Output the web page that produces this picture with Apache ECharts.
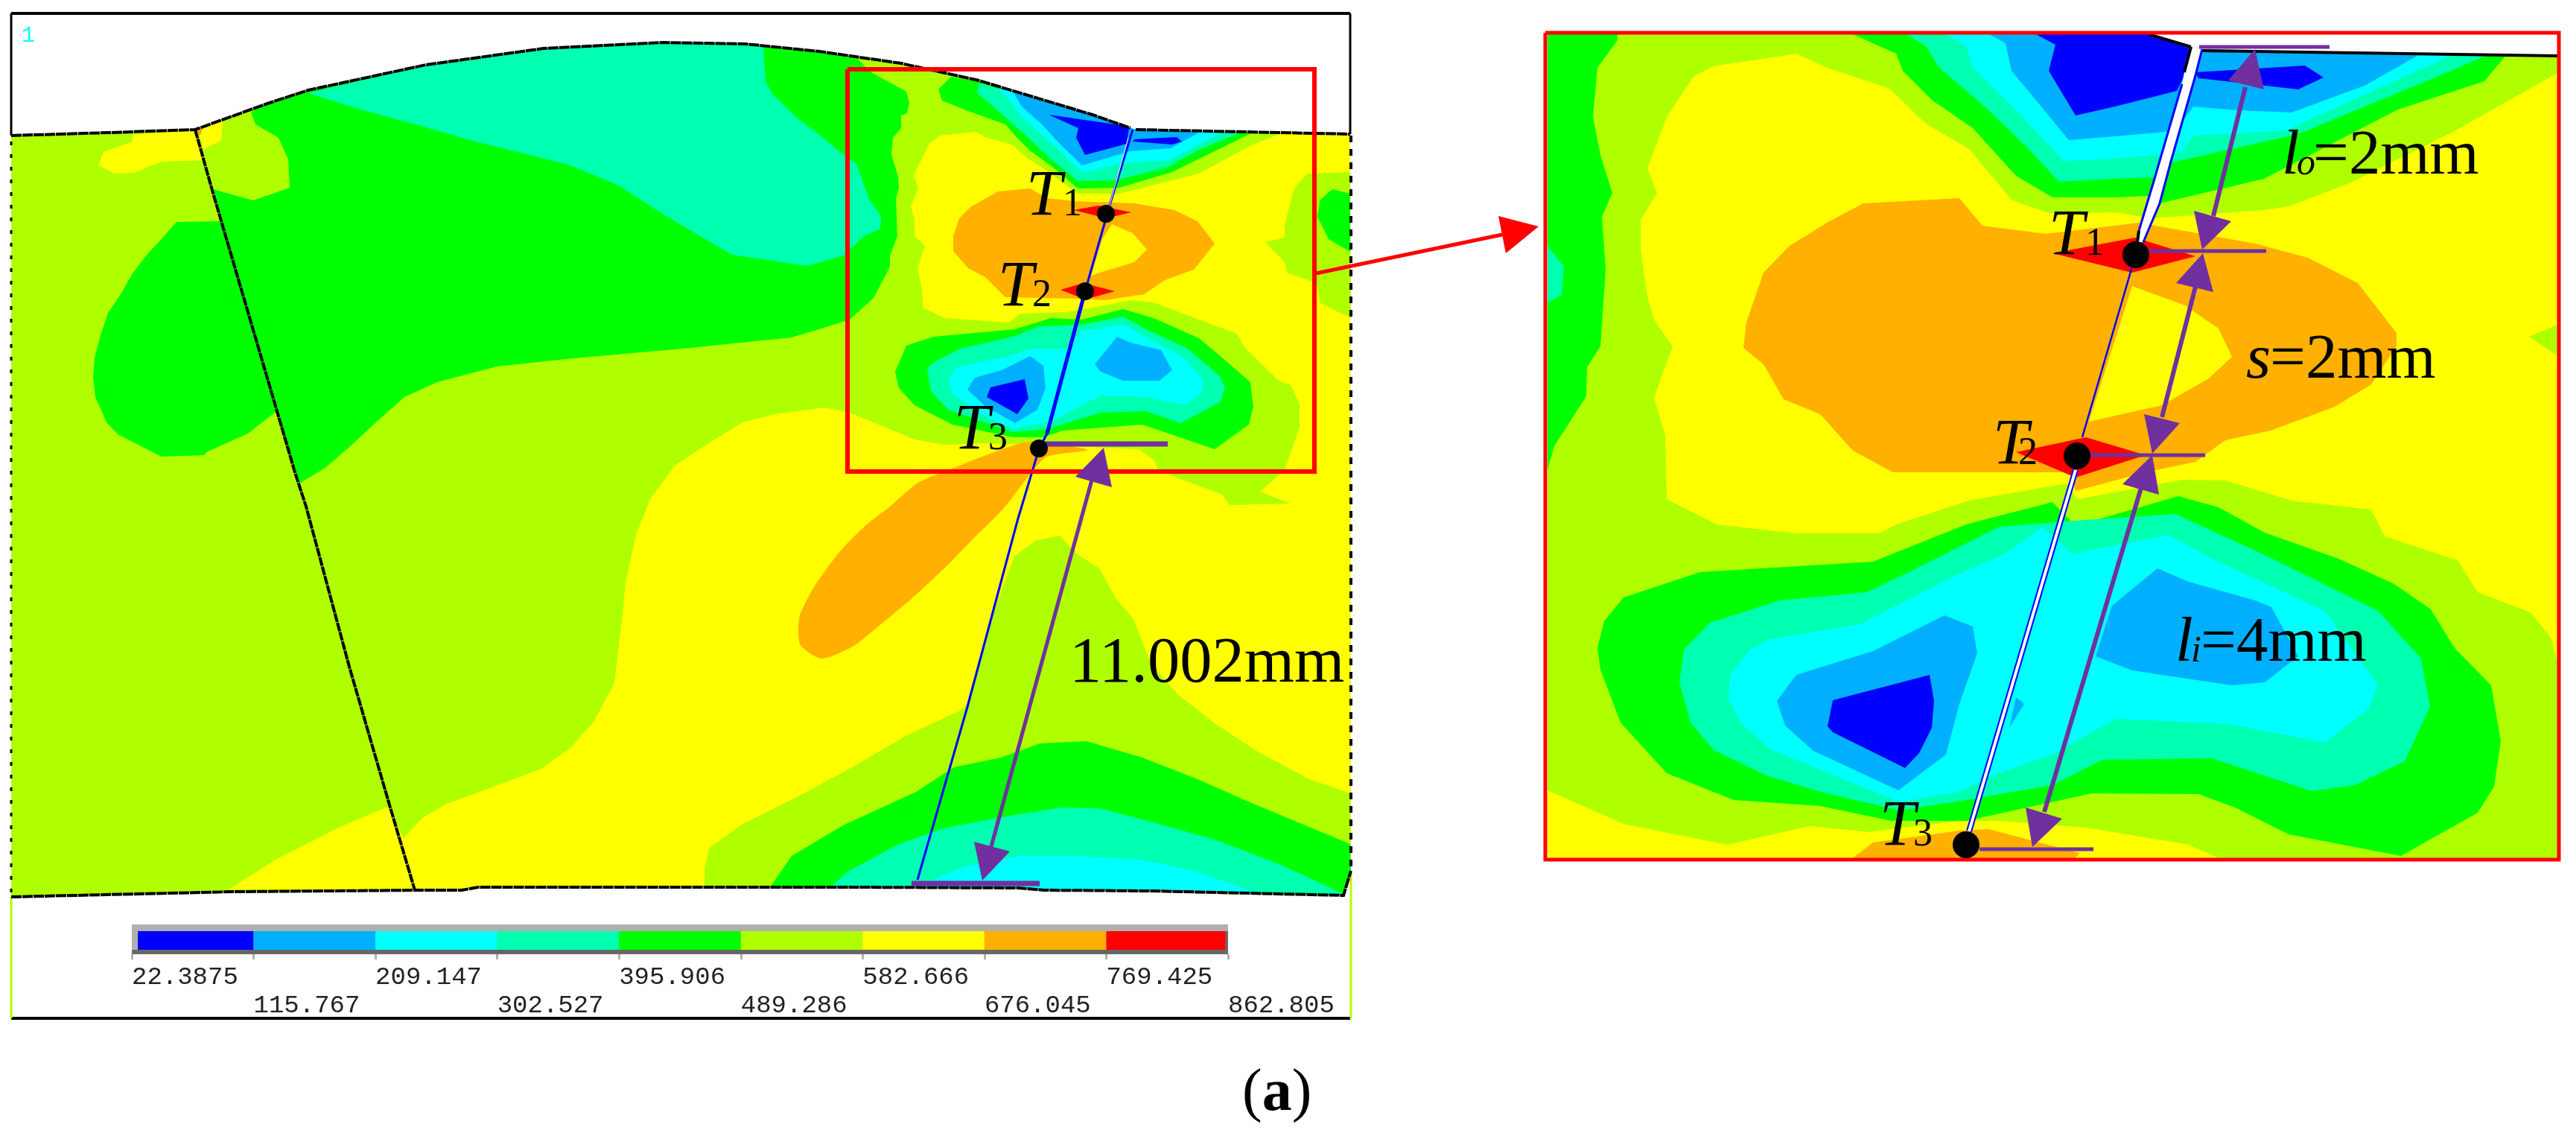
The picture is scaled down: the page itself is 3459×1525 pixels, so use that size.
<!DOCTYPE html>
<html>
<head>
<meta charset="utf-8">
<title></title>
<script src="https://cdn.jsdelivr.net/npm/echarts@6/dist/echarts.min.js"></script>
<style>html,body{margin:0;padding:0;background:#fff}</style>
</head>
<body>
<div id="main" style="width:3459px;height:1525px;"></div>
<script>
// contour colours, low stress to high stress
var BLUE='#0000ff',SKY='#00b0ff',CYAN='#00ffff',TEAL='#00ffb0',GREEN='#00ff00',LIME='#b0ff00',YELLOW='#ffff00',ORANGE='#ffb000',RED='#ff0000';
var PURPLE='#7030a0';

// legend
var legendBreaks=[22.3875,115.767,209.147,302.527,395.906,489.286,582.666,676.045,769.425,862.805];
var legendColors=[BLUE,SKY,CYAN,TEAL,GREEN,LIME,YELLOW,ORANGE,RED];

// left panel, section outline
var topEdge=[[15,182],[147,178],[262,174],[359,139],[414,121],[572,87],[730,65],[891,57],[1001,59],[1100,69],[1210,85],[1314,108],[1467,154],[1518,172]];
var topEdgeRight=[[1525,174],[1813,180]];
var bottomEdge=[[15,1204],[315,1197],[557,1195],[620,1195],[642,1191],[1150,1191],[1367,1192],[1402,1195],[1545,1196],[1804,1202],[1814,1169]];
var section=topEdge.concat(topEdgeRight,[[1814,1169],[1804,1202],[1545,1196],[1402,1195],[1367,1192],[1150,1191],[642,1191],[620,1195],[557,1195],[315,1197],[15,1204]]);
var weldLine=[[262,174],[286,259],[345,460],[396,634],[411,680],[469,895],[524,1084],[557,1195]];

// left panel, main contour bands
var mainGreen=[[337,150],[343,167],[374,185],[387,214],[389,252],[340,269],[286,254],[297,297],[237,298],[213,325],[197,342],[178,367],[162,395],[145,420],[135,450],[127,480],[125,507],[128,533],[143,567],[158,583],[217,613],[275,611],[277,607],[333,582],[370,553],[402,649],[437,628],[477,593],[507,565],[543,533],[587,513],[667,492],[770,481],[917,468],[1063,453],[1100,442],[1141,429],[1173,400],[1195,358],[1195,343],[1205,317],[1203,267],[1207,253],[1206,237],[1197,207],[1199,185],[1210,172],[1210,155],[1218,152],[1221,138],[1217,123],[1168,96],[1152,79],[1100,69],[1001,59],[891,57],[730,65],[572,87],[414,121],[359,139]];
var mainTeal=[[414,125],[477,145],[565,169],[638,190],[763,221],[829,248],[891,288],[983,342],[1083,357],[1133,343],[1160,317],[1182,307],[1183,290],[1167,267],[1150,220],[1135,210],[1103,183],[1070,158],[1038,127],[1028,110],[1025,63],[1001,59],[891,57],[730,65],[572,87]];
var rootYellowA=[[132,222],[139,204],[178,190],[178,181],[262,175],[275,215],[216,217],[180,232],[154,233]];
var rootYellowB=[[265,173],[299,163],[297,188],[273,201]];
var rootOrange=[[264,174],[272,172],[270,180],[266,182]];
var bigYellow=[[307,1194],[370,1154],[453,1112],[520,1083],[542,1125],[567,1098],[600,1079],[647,1062],[727,1032],[767,1003],[780,988],[797,969],[825,917],[836,825],[840,782],[854,718],[869,680],[873,670],[906,625],[953,594],[997,567],[1041,556],[1107,547],[1141,554],[1228,590],[1268,597],[1240,413],[1237,383],[1232,360],[1242,330],[1228,317],[1228,293],[1223,278],[1233,252],[1227,235],[1248,193],[1262,182],[1310,177],[1323,184],[1360,195],[1380,213],[1397,223],[1447,260],[1503,260],[1610,233],[1680,195],[1720,179],[1813,180],[1814,1169],[1804,1202],[1545,1196],[1402,1195],[1367,1192],[1150,1191],[642,1191],[620,1195],[557,1195]];
var footLime=[[946,1191],[946,1165],[953,1138],[994,1108],[1074,1068],[1144,1030],[1218,987],[1293,952],[1298,944],[1333,825],[1362,747],[1390,726],[1422,719],[1448,745],[1476,763],[1499,804],[1522,831],[1545,890],[1580,931],[1631,971],[1689,1009],[1758,1046],[1813,1065],[1814,1169],[1804,1202],[1545,1196],[1402,1195],[1367,1192]];
var footGreen=[[1034,1191],[1063,1149],[1132,1108],[1230,1063],[1281,1030],[1344,1017],[1396,998],[1459,995],[1534,1017],[1608,1046],[1683,1079],[1813,1133],[1814,1169],[1804,1202],[1545,1196],[1402,1195],[1367,1192]];
var footTeal=[[1115,1191],[1138,1170],[1207,1133],[1270,1111],[1356,1095],[1425,1084],[1476,1085],[1545,1103],[1631,1127],[1718,1160],[1804,1200],[1545,1196],[1402,1195],[1367,1192]];
var footCyan=[[1227,1191],[1299,1162],[1367,1149],[1448,1149],[1534,1154],[1608,1170],[1683,1197],[1545,1196],[1402,1195],[1367,1192]];
var sideLime=[[1813,231],[1756,233],[1738,252],[1725,301],[1725,319],[1699,325],[1725,352],[1728,366],[1768,380],[1773,407],[1814,427]];
var sideGreen=[[1789,254],[1813,260],[1813,338],[1784,321],[1769,291],[1773,268]];

// left panel, around the notch
var notchGreen=[[1315,110],[1277,103],[1260,120],[1265,135],[1297,148],[1350,167],[1363,182],[1383,202],[1417,227],[1447,253],[1503,252],[1574,231],[1631,203],[1682,178],[1525,174],[1518,172],[1467,154]];
var notchTeal=[[1315,112],[1312,125],[1330,140],[1350,158],[1370,175],[1407,210],[1447,243],[1498,242],[1567,225],[1610,201],[1666,178],[1525,174],[1518,172],[1467,154]];
var notchCyan=[[1338,117],[1352,130],[1368,153],[1398,180],[1420,200],[1453,232],[1508,219],[1569,215],[1641,178],[1525,174],[1518,172],[1467,154]];
var notchSky=[[1360,123],[1372,143],[1400,168],[1423,193],[1453,222],[1518,203],[1572,199],[1610,178],[1525,174],[1518,172],[1467,154]];
var notchBlueA=[[1408,154],[1498,167],[1516,172],[1513,193],[1457,208],[1445,185],[1448,172]];
var notchBlueB=[[1523,187],[1580,184],[1587,190],[1574,194],[1521,190]];

// left panel, orange ring and tail
var ringOrange=[[1340,257],[1303,278],[1288,293],[1280,317],[1280,337],[1300,360],[1323,372],[1350,399],[1452,401],[1483,403],[1536,395],[1564,376],[1603,362],[1631,327],[1608,297],[1577,282],[1523,273],[1442,270],[1406,266],[1383,253]];
var ringHole=[[1493,301],[1521,313],[1540,335],[1523,352],[1483,364],[1465,370],[1480,321]];
var tailOrange=[[1072,842],[1075,823],[1095,785],[1129,739],[1164,704],[1195,680],[1233,648],[1284,627],[1324,611],[1383,593],[1460,604],[1406,613],[1386,633],[1347,683],[1304,726],[1270,761],[1227,801],[1166,852],[1143,869],[1103,884],[1075,866]];
var redT1=[[1442,282],[1475,276],[1519,285],[1485,293]];
var redT2=[[1424,389],[1455,380],[1497,391],[1457,402]];

// left panel, closed low-stress basin
var basinLime=[[1268,597],[1240,413],[1268,427],[1355,433],[1370,421],[1432,419],[1483,410],[1518,403],[1549,406],[1610,429],[1661,448],[1671,466],[1717,511],[1733,517],[1745,542],[1745,574],[1725,631],[1692,660],[1733,676],[1651,678],[1641,664],[1554,631],[1551,619],[1529,603],[1401,597],[1319,595]];
var basinGreen=[[1202,499],[1217,464],[1253,452],[1363,442],[1411,427],[1452,429],[1508,415],[1549,427],[1610,454],[1641,480],[1679,513],[1683,546],[1677,570],[1631,603],[1534,570],[1427,578],[1401,587],[1360,587],[1279,570],[1228,544],[1207,521]];
var basinTeal=[[1245,495],[1253,487],[1289,468],[1360,452],[1396,438],[1452,436],[1508,425],[1539,442],[1595,468],[1638,505],[1645,521],[1638,540],[1585,568],[1539,552],[1478,554],[1406,576],[1360,580],[1273,550],[1250,525]];
var basinCyan=[[1273,511],[1284,493],[1355,478],[1386,468],[1432,468],[1452,444],[1508,435],[1590,480],[1615,509],[1613,529],[1590,544],[1539,533],[1478,531],[1411,566],[1360,576],[1314,554],[1279,529]];
var basinSkyA=[[1299,523],[1309,507],[1345,497],[1383,478],[1401,491],[1404,521],[1393,550],[1363,568],[1324,546]];
var basinSkyB=[[1470,489],[1500,452],[1518,460],[1559,470],[1574,497],[1557,511],[1508,511],[1478,499]];
var basinBlue=[[1325,533],[1330,520],[1376,509],[1381,535],[1366,556]];

// inset panel
var insetBox=[[2078,46],[3436,46],[3436,1152],[2078,1152]];
var insetYellow=[[2413,72],[2453,91],[2537,119],[2586,166],[2644,200],[2702,269],[2751,286],[2840,285],[2890,293],[3040,282],[3073,277],[3157,245],[3296,176],[3354,143],[3436,97],[3436,895],[3425,856],[3398,822],[3327,795],[3300,752],[3202,720],[3184,684],[3077,672],[2988,645],[2930,644],[2790,670],[2774,649],[2644,672],[2546,704],[2524,716],[2412,716],[2305,704],[2238,670],[2237,620],[2236,584],[2221,534],[2246,465],[2221,429],[2212,398],[2203,334],[2203,295],[2225,259],[2212,226],[2238,157],[2274,103],[2300,89]];
var insetYellowLow=[[2078,1061],[2180,1106],[2319,1134],[2430,1109],[2510,1117],[2631,1102],[2685,1102],[2801,1111],[2939,1134],[2979,1152],[2078,1152]];
var insetLeftGreen=[[2078,46],[2172,46],[2172,54],[2145,91],[2139,157],[2149,208],[2165,259],[2151,291],[2156,362],[2149,465],[2131,493],[2130,532],[2087,599],[2078,631]];
var insetLeftTeal=[[2078,330],[2100,358],[2097,396],[2078,406]];
var insetSideLime=[[3436,435],[3396,452],[3436,479]];
var insetOrange=[[2502,273],[2631,266],[2662,303],[2747,314],[2872,299],[3028,327],[3099,346],[3166,380],[3218,447],[3218,465],[3184,516],[3135,546],[3049,578],[2988,591],[2948,620],[2881,634],[2787,659],[2780,634],[2542,634],[2488,605],[2444,556],[2395,536],[2368,489],[2341,467],[2345,433],[2368,366],[2403,330],[2453,299]];
var insetHole=[[2863,384],[2934,410],[2979,441],[2997,479],[2966,508],[2903,544],[2805,566]];
var insetRedT1=[[2756,340],[2867,319],[2948,344],[2863,366]];
var insetRedT2=[[2707,607],[2801,587],[2881,611],[2787,641]];
var insetNotchGreen=[[2488,46],[2546,72],[2555,95],[2595,135],[2649,172],[2707,236],[2756,265],[2840,265],[2883,263],[2900,273],[3040,240],[3220,147],[3336,109],[3367,72],[3367,46]];
var insetNotchTeal=[[2560,46],[2586,62],[2604,91],[2667,145],[2720,196],[2765,244],[2840,240],[2893,238],[2917,218],[3086,180],[3282,99],[3349,70],[3349,46]];
var insetNotchCyan=[[2613,46],[2640,62],[2649,91],[2702,143],[2771,216],[2840,213],[2907,207],[2930,205],[2945,182],[3068,176],[3296,72],[3296,46]];
var insetNotchSky=[[2671,46],[2693,58],[2701,95],[2778,188],[2840,183],[2907,177],[2925,170],[2945,143],[3003,148],[3077,151],[3175,115],[3251,72],[3251,46]];
var insetNotchBlueA=[[2734,46],[2760,60],[2751,95],[2787,155],[2840,143],[2923,122],[2939,89],[2943,66],[2885,46]];
var insetNotchBlueB=[[2948,97],[3095,88],[3120,104],[3086,120],[2952,105]];
var insetBasinGreen=[[2180,802],[2283,768],[2515,754],[2640,704],[2756,674],[2787,706],[2925,666],[2979,681],[3041,715],[3140,750],[3215,784],[3264,818],[3296,870],[3345,920],[3358,995],[3349,1056],[3327,1091],[3224,1149],[3073,1120],[3001,1084],[2952,1066],[2809,1065],[2640,1102],[2540,1102],[2444,1082],[2328,1074],[2238,1038],[2176,970],[2149,899],[2145,870],[2154,834]];
var insetBasinTeal=[[2296,836],[2390,806],[2506,795],[2551,774],[2685,707],[2770,700],[2921,690],[3041,745],[3193,820],[3251,884],[3263,949],[3229,1022],[3162,1054],[3104,1062],[2970,1018],[2823,1020],[2756,1054],[2640,1074],[2595,1081],[2551,1088],[2444,1063],[2372,1041],[2301,1007],[2270,970],[2255,916],[2261,872]];
var insetBasinCyan=[[2323,906],[2350,872],[2377,858],[2497,838],[2622,774],[2693,743],[2743,707],[2783,743],[2912,718],[2970,750],[3122,820],[3193,920],[3180,952],[3122,997],[2992,972],[2841,965],[2756,1013],[2676,1041],[2631,1063],[2551,1077],[2377,1006],[2337,970],[2321,938]];
var insetBasinSkyA=[[2386,941],[2412,906],[2515,874],[2611,826],[2649,841],[2655,877],[2631,945],[2613,1013],[2549,1061],[2435,1008],[2397,974]];
var insetBasinSkyC=[[2707,936],[2718,945],[2698,977]];
var insetBasinSkyB=[[2814,881],[2836,813],[2897,763],[2939,781],[3028,806],[3050,815],[3086,881],[3041,916],[2997,920],[2863,900]];
var insetBasinBlue=[[2454,975],[2461,940],[2591,906],[2597,941],[2594,977],[2577,1011],[2558,1031],[2461,983]];
var insetFootOrange=[[2488,1152],[2515,1131],[2631,1115],[2670,1113],[2792,1145],[2787,1152]];
var insetWhiteNotch=[[2885,44],[2942,63],[2957,66],[3436,75],[3436,44]];
var insetWeldWhite=[[2942,63],[2957,66],[2947,105],[2915,217],[2900,273],[2878,325],[2870,325],[2872,310],[2893,240],[2930,113],[2933,97]];

// [colour, polygon, smooth]
var layers=[
    [LIME,section],[GREEN,mainGreen],[TEAL,mainTeal],[YELLOW,rootYellowA],[YELLOW,rootYellowB],[ORANGE,rootOrange],
    [YELLOW,bigYellow],[LIME,footLime],[GREEN,footGreen],[TEAL,footTeal],[CYAN,footCyan],
    [LIME,sideLime],[GREEN,sideGreen],
    [GREEN,notchGreen],[TEAL,notchTeal],[CYAN,notchCyan],[SKY,notchSky],[BLUE,notchBlueA],[BLUE,notchBlueB],
    [LIME,basinLime],[ORANGE,tailOrange,0.25],[ORANGE,ringOrange],[YELLOW,ringHole],[RED,redT1],[RED,redT2],
    [GREEN,basinGreen],[TEAL,basinTeal],[CYAN,basinCyan],[SKY,basinSkyA],[SKY,basinSkyB],[BLUE,basinBlue],
    [LIME,insetBox],[YELLOW,insetYellow],[YELLOW,insetYellowLow],[GREEN,insetLeftGreen],[TEAL,insetLeftTeal],[LIME,insetSideLime],
    [ORANGE,insetOrange],[YELLOW,insetHole],[RED,insetRedT1],[RED,insetRedT2],
    [GREEN,insetNotchGreen],[TEAL,insetNotchTeal],[CYAN,insetNotchCyan],[SKY,insetNotchSky],[BLUE,insetNotchBlueA],[BLUE,insetNotchBlueB],
    [GREEN,insetBasinGreen],[TEAL,insetBasinTeal],[CYAN,insetBasinCyan],[SKY,insetBasinSkyA],[SKY,insetBasinSkyB],[SKY,insetBasinSkyC],[BLUE,insetBasinBlue],
    [ORANGE,insetFootOrange],['#ffffff',insetWhiteNotch],['#ffffff',insetWeldWhite]
];

// [colour, width, dash, points]
var strokes=[
    ['#000',4,null,[[15,18],[1813,18]]],
    ['#000',3,null,[[15,18],[15,182]]],
    ['#000',3,null,[[1813,18],[1813,180]]],
    ['#000',4,null,[[15,1367],[1813,1367]]],
    ['#000',3,[5,12],[[15,190],[15,1204]]],
    ['#000',4,[9,9],[[1814,182],[1814,1165]]],
    [LIME,3,null,[[15,1204],[15,1367]]],
    [LIME,3,null,[[1814,1169],[1814,1367]]],
    ['#000',4,[14,1],topEdge],
    ['#000',4,[14,1],topEdgeRight],
    ['#000',4,[14,1],bottomEdge],
    ['#000',4,[12,1],weldLine],
    [BLUE,3,null,[[1521,174],[1490,276],[1457,391],[1406,582],[1395,603],[1367,696],[1299,949],[1232,1181]]],
    [BLUE,5,null,[[1457,391],[1406,582]]],
    ['#fff',1,null,[[1515,185],[1490,276]]],
    [RED,6,null,[[1138,93],[1765,93],[1765,633],[1138,633],[1138,93]]],
    [RED,5,null,[[1767,367],[2017,315]]],
    // inset
    ['#000',4,null,[[2885,46],[2942,63]]],
    ['#000',4,null,[[2957,68],[3434,75]]],
    ['#000',4,null,[[2942,63],[2933,97]]],
    ['#000',4,null,[[2872,310],[2870,325]]],
    [BLUE,3,null,[[2957,66],[2947,105],[2915,217],[2900,273],[2878,325]]],
    [BLUE,3,null,[[2930,113],[2893,240],[2872,310]]],
    [BLUE,2.5,null,[[2863,358],[2834,457],[2796,587]]],
    [BLUE,8,null,[[2787,631],[2644,1116]]],
    ['#fff',4,null,[[2787,631],[2644,1116]]],
    [RED,5,null,[[2075,44],[3436,44],[3436,1154],[2075,1154],[2075,44]]],
    // dimension bars and arrow shafts
    [PURPLE,7,null,[[1401,596],[1568,596]]],
    [PURPLE,7,null,[[1224,1186],[1396,1186]]],
    [PURPLE,5,null,[[1470,630],[1330,1140]]],
    [PURPLE,5,null,[[2953,63],[3128,63]]],
    [PURPLE,5,null,[[2885,337],[3043,337]]],
    [PURPLE,5,null,[[2805,611],[2961,611]]],
    [PURPLE,5,null,[[2658,1140],[2811,1140]]],
    [PURPLE,6,null,[[3015,117],[2972,290]]],
    [PURPLE,6,null,[[2948,385],[2903,560]]],
    [PURPLE,6,null,[[2875,655],[2745,1090]]]
];

// arrow heads drawn over the strokes
var heads=[
    [PURPLE,[[1482,601],[1444,640],[1493,654]]],
    [PURPLE,[[1319,1182],[1308,1130],[1356,1143]]],
    [RED,[[2066,304],[2012,290],[2022,340]]],
    [PURPLE,[[3028,66],[2992,108],[3040,120]]],
    [PURPLE,[[2957,335],[2946,283],[2996,297]]],
    [PURPLE,[[2958,340],[2922,380],[2972,392]]],
    [PURPLE,[[2890,609],[2879,556],[2927,568]]],
    [PURPLE,[[2890,611],[2850,650],[2899,664]]],
    [PURPLE,[[2729,1137],[2720,1084],[2769,1099]]]
];

var pointsSmall=[[1485,287],[1457,391],[1395,602]];
var pointsLarge=[[2868,342],[2789,612],[2640,1134]];

// [text, left, baseline, size, style]
var textMarks=[
    ['T',1378,291,86,'italic'],['1',1427,291,52,'normal'],
    ['T',1340,413,86,'italic'],['2',1386,413,52,'normal'],
    ['T',1281,605,86,'italic'],['3',1327,605,52,'normal'],
    ['11.002mm',1436,918,86.5,'normal'],
    ['T',2751,344,86,'italic'],['1',2800,344,52,'normal'],
    ['T',2676,625,86,'italic'],['2',2710,625,52,'normal'],
    ['T',2524,1137,86,'italic'],['3',2569,1137,52,'normal'],
    ['l',3064,236,85,'italic'],['o',3084,236,50,'italic'],['=2mm',3106,236,85,'normal'],
    ['s',3016,510,85,'italic'],['=2mm',3048,510,85,'normal'],
    ['l',2921,890,85,'italic'],['i',2942,890,50,'italic'],['=4mm',2955,890,85,'normal']
];

var chart=echarts.init(document.getElementById('main'));

function polygonItem(params,api){
    var layer=layers[params.dataIndex];
    return {type:'polygon',shape:{points:layer[1].map(function(p){return api.coord(p);}),smooth:layer[2]||0},style:{fill:layer[0]}};
}
function strokeItem(params,api){
    var s=strokes[params.dataIndex];
    return {type:'polyline',shape:{points:s[3].map(function(p){return api.coord(p);})},
        style:{stroke:s[0],lineWidth:s[1],lineDash:s[2],fill:null,lineJoin:'miter'}};
}
function headItem(params,api){
    var h=heads[params.dataIndex];
    return {type:'polygon',shape:{points:h[1].map(function(p){return api.coord(p);})},style:{fill:h[0]}};
}
function textItem(params,api){
    var t=textMarks[params.dataIndex];
    var c=api.coord([t[1],t[2]]);
    return {type:'text',style:{text:t[0],x:c[0],y:c[1]-t[3]*0.3,fill:'#000',align:'left',verticalAlign:'middle',
        font:t[4]+' '+t[3]+'px "Liberation Serif"'}};
}
function legendItem(params,api){
    var i=params.dataIndex;
    var a=api.coord([Math.max(legendBreaks[i],27),0.775]);
    var b=api.coord([Math.min(legendBreaks[i+1],861),0.15]);
    return {type:'rect',shape:{x:a[0],y:a[1],width:b[0]-a[0],height:b[1]-a[1]},style:{fill:legendColors[i]}};
}
function legendBevel(params,api){
    var a=api.coord([22.3875,1]),b=api.coord([862.805,0]),c=api.coord([861,0.775]),d=api.coord([22.3875,0.15]);
    return {type:'group',children:[
        {type:'rect',shape:{x:a[0],y:a[1],width:b[0]-a[0],height:b[1]-a[1]},style:{fill:'#b0b0b0'}},
        {type:'rect',shape:{x:d[0],y:d[1],width:b[0]-d[0],height:b[1]-d[1]},style:{fill:'#686868'}},
        {type:'rect',shape:{x:c[0],y:c[1],width:b[0]-c[0],height:b[1]-c[1]},style:{fill:'#686868'}}
    ]};
}
function indexData(list){return list.map(function(d,i){return i;});}

var option={
    animation:false,
    backgroundColor:'#fff',
    grid:[
        {left:0,top:0,width:3459,height:1525},
        {left:177,top:1241,width:1472,height:40}
    ],
    xAxis:[
        {type:'value',min:0,max:3459,show:false,gridIndex:0},
        {type:'value',gridIndex:1,min:22.3875,max:862.805,position:'bottom',
            axisLine:{show:false},splitLine:{show:false},
            axisTick:{show:true,length:7,customValues:legendBreaks,lineStyle:{color:'#b0b0b0',width:3}},
            axisLabel:{show:true,customValues:legendBreaks,margin:12,align:'left',verticalAlign:'top',hideOverlap:false,
                fontFamily:'Liberation Mono',fontSize:34,color:'#222',lineHeight:38,
                formatter:function(v){
                    var i=legendBreaks.indexOf(v);
                    return i%2?'\n'+v:String(v);
                }}}
    ],
    yAxis:[
        {type:'value',min:0,max:1525,inverse:true,show:false,gridIndex:0},
        {type:'value',min:0,max:1,show:false,gridIndex:1}
    ],
    series:[
        {type:'custom',coordinateSystem:'cartesian2d',xAxisIndex:0,yAxisIndex:0,clip:false,silent:true,data:indexData(layers),renderItem:polygonItem,z:1},
        {type:'custom',coordinateSystem:'cartesian2d',xAxisIndex:0,yAxisIndex:0,clip:false,silent:true,data:indexData(strokes),renderItem:strokeItem,z:2},
        {type:'custom',coordinateSystem:'cartesian2d',xAxisIndex:0,yAxisIndex:0,clip:false,silent:true,data:indexData(heads),renderItem:headItem,z:3},
        {type:'scatter',xAxisIndex:0,yAxisIndex:0,silent:true,symbolSize:24,itemStyle:{color:'#000',opacity:1},data:pointsSmall,z:4},
        {type:'scatter',xAxisIndex:0,yAxisIndex:0,silent:true,symbolSize:36,itemStyle:{color:'#000',opacity:1},data:pointsLarge,z:4},
        {type:'custom',coordinateSystem:'cartesian2d',xAxisIndex:0,yAxisIndex:0,clip:false,silent:true,data:indexData(textMarks),renderItem:textItem,z:5},
        {type:'custom',coordinateSystem:'cartesian2d',xAxisIndex:1,yAxisIndex:1,clip:false,silent:true,data:[0],renderItem:legendBevel,z:6},
        {type:'custom',coordinateSystem:'cartesian2d',xAxisIndex:1,yAxisIndex:1,clip:false,silent:true,data:indexData(legendColors),renderItem:legendItem,z:7}
    ],
    graphic:[
        {type:'text',left:29,top:33,style:{text:'1',fill:'#00ffff',font:'30px "Liberation Mono"'}},
        {type:'text',left:1668,top:1429,style:{text:'{n|(}{b|a}{n|)}',
            rich:{n:{font:'80px "Liberation Serif"',fill:'#000'},b:{font:'bold 80px "Liberation Serif"',fill:'#000'}}}}
    ]
};
chart.setOption(option);
</script>
</body>
</html>
